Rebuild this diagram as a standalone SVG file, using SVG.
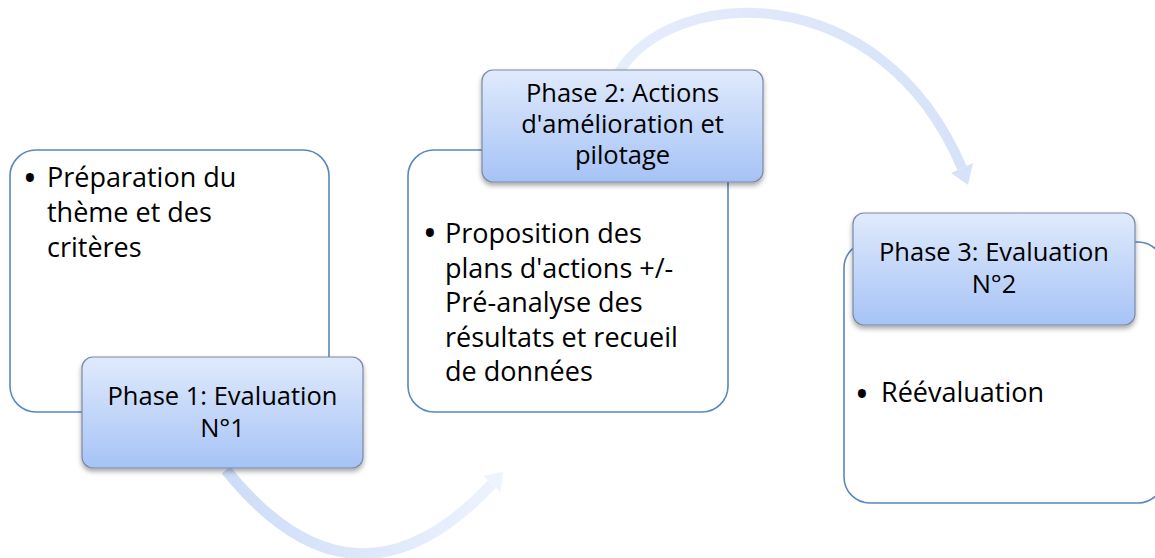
<svg xmlns="http://www.w3.org/2000/svg" width="1155" height="558" viewBox="0 0 1155 558">
<defs>
<linearGradient id="phaseGrad" x1="0" y1="0" x2="0" y2="1">
<stop offset="0" stop-color="#e0eafc"/>
<stop offset="1" stop-color="#a6c3f6"/>
</linearGradient>
<linearGradient id="arcGrad1" gradientUnits="userSpaceOnUse" x1="226" y1="0" x2="503" y2="0">
<stop offset="0" stop-color="#cddcf7"/>
<stop offset="1" stop-color="#eef3fd"/>
</linearGradient>
<linearGradient id="arcGrad2" gradientUnits="userSpaceOnUse" x1="618" y1="0" x2="975" y2="0">
<stop offset="0" stop-color="#e6edfb"/>
<stop offset="1" stop-color="#d6e2f8"/>
</linearGradient>
<filter id="shadow" x="-10%" y="-10%" width="120%" height="140%">
<feDropShadow dx="0" dy="3" stdDeviation="2.5" flood-color="#000" flood-opacity="0.35"/>
</filter>
</defs>
<style>
.card{fill:#fff;stroke:#5a86c1;stroke-width:1.6}
.phase{fill:url(#phaseGrad);stroke:#7b8aa3;stroke-width:1.2;filter:url(#shadow)}
.ptext{font-family:"Open Sans",sans-serif;font-size:25.5px;fill:#000;text-anchor:middle}
.btext{font-family:"Open Sans",sans-serif;font-size:27px;fill:#000}
.bullet{font-family:"Open Sans",sans-serif;font-size:38px;fill:#000;text-anchor:middle}
</style>
<g id="connectors">
<path d="M 226 470 Q 355 630 492 484" fill="none" stroke="url(#arcGrad1)" stroke-width="11"/>
<polygon points="503,472 500.7,492.2 483.3,475.8" fill="#eef3fd"/>
<path d="M 618 74 C 670 -15 880 -25 962 168" fill="none" stroke="url(#arcGrad2)" stroke-width="10"/>
<polygon points="968,185 973,163 951,173" fill="#d6e2f8"/>
</g>
<g id="card1">
<rect class="card" x="10" y="150" width="319" height="262" rx="26"/>
<text class="bullet" x="30" y="192">•</text>
<text class="btext" x="47" y="187">Préparation du</text>
<text class="btext" x="47" y="222">thème et des</text>
<text class="btext" x="47" y="257">critères</text>
</g>
<g id="phase1">
<rect class="phase" x="82" y="357" width="281" height="111" rx="11"/>
<text class="ptext" x="222.5" y="405">Phase 1: Evaluation</text>
<text class="ptext" x="222.5" y="437">N°1</text>
</g>
<g id="card2">
<rect class="card" x="408" y="150" width="320" height="262" rx="26"/>
<text class="bullet" x="430" y="247">•</text>
<text class="btext" x="445" y="243">Proposition des</text>
<text class="btext" x="445" y="277.5">plans d'actions +/-</text>
<text class="btext" x="445" y="312">Pré-analyse des</text>
<text class="btext" x="445" y="346.5">résultats et recueil</text>
<text class="btext" x="445" y="381">de données</text>
</g>
<g id="phase2">
<rect class="phase" x="482" y="70" width="281" height="112" rx="11"/>
<text class="ptext" x="622.5" y="102">Phase 2: Actions</text>
<text class="ptext" x="622.5" y="133">d'amélioration et</text>
<text class="ptext" x="622.5" y="164">pilotage</text>
</g>
<g id="card3">
<rect class="card" x="844" y="242" width="320" height="261" rx="26"/>
<text class="bullet" x="862" y="408">•</text>
<text class="btext" x="881" y="402">Réévaluation</text>
</g>
<g id="phase3">
<rect class="phase" x="853" y="213" width="282" height="112" rx="11"/>
<text class="ptext" x="994" y="261">Phase 3: Evaluation</text>
<text class="ptext" x="994" y="293">N°2</text>
</g>
</svg>
